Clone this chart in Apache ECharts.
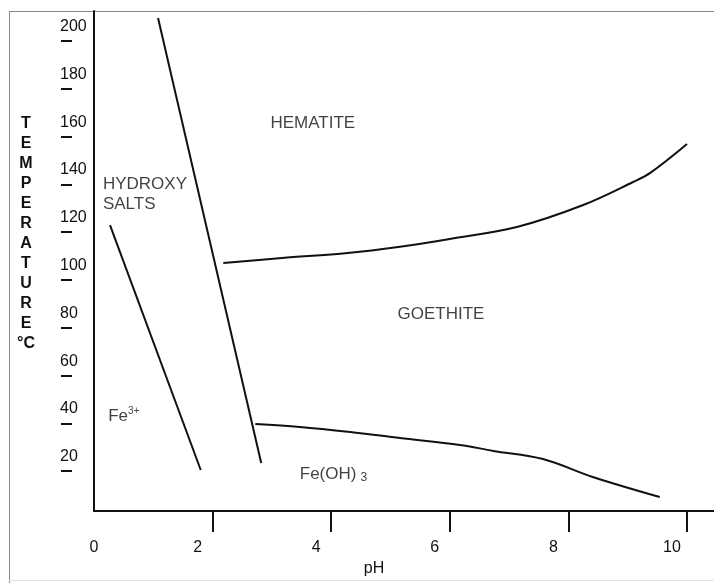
<!DOCTYPE html>
<html><head><meta charset="utf-8">
<script src="https://cdn.jsdelivr.net/npm/echarts@6/dist/echarts.min.js"></script>
<style>html,body{margin:0;padding:0;background:#fff}#c{width:714px;height:583px}</style>
</head><body><div id="c"></div>
<script>
// ---- data ----
const phTicks = [2, 4, 6, 8, 10];
const phLabels = [0, 2, 4, 6, 8, 10];
const tempTicks = [20, 40, 60, 80, 100, 120, 140, 160, 180, 200];
const yTitleLetters = ['T', 'E', 'M', 'P', 'E', 'R', 'A', 'T', 'U', 'R', 'E', '°C'];
// boundary lines [pH, T °C]
const hydroxyHematiteLine = [[1.08, 209.6], [2.82, 23.4]];
const fe3HydroxyLine = [[0.27, 123.0], [1.80, 20.5]];
const hematiteGoethiteLine = [[2.18, 107.1], [3.17, 109.2], [4.28, 111.3], [5.13, 113.8], [6.00, 117.2], [7.13, 122.2], [8.25, 131.4], [9.09, 141.0], [9.38, 144.8], [10.0, 156.9]];
const goethiteFeOH3Line = [[2.72, 39.7], [3.47, 38.5], [4.32, 36.4], [5.16, 33.9], [6.17, 31.0], [6.73, 28.5], [7.57, 25.1], [8.41, 17.6], [9.54, 9.2]];
// region labels [pH, T, text, align]
const regionLabels = [
  [3.69, 165.7, '{a|HEMATITE}', 'center'],
  [0.15, 136.0, '{a|HYDROXY}\n{a|SALTS}', 'left'],
  [5.85, 85.8, '{a|GOETHITE}', 'center'],
  [0.24, 43.1, '{a|Fe}{sup|3+}', 'left'],
  [3.47, 18.8, '{a|Fe(OH)}{sub|3}', 'left']
];

const FONT = 'Liberation Sans, Arial, sans-serif';
const INK = '#111';
const chart = echarts.init(document.getElementById('c'), null, {renderer: 'canvas'});

const lineSeries = (d) => ({
  type: 'line', data: d, symbol: 'none', smooth: d.length > 2 ? 0.35 : false,
  lineStyle: {color: INK, width: 2}, silent: true, z: 3
});

chart.setOption({
  animation: false,
  backgroundColor: '#fff',
  grid: {left: 94, right: 0, top: 11, bottom: 72, containLabel: false},
  xAxis: {
    type: 'value', min: 0, max: 10.455,
    axisLine: {show: true, lineStyle: {color: INK, width: 2}},
    axisTick: {show: true, length: 21, customValues: phTicks, lineStyle: {color: INK, width: 2}},
    axisLabel: {
      customValues: phLabels, margin: 29,
      formatter: v => v === 0 ? '{z|0}' : '{n|' + v + '}',
      rich: {
        z: {fontSize: 16, fontFamily: FONT, color: INK},
        n: {fontSize: 16, fontFamily: FONT, color: INK, padding: [0, 30, 0, 0]}
      }
    },
    splitLine: {show: false},
    name: 'pH', nameLocation: 'middle', nameGap: 50,
    nameTextStyle: {fontSize: 16, fontFamily: FONT, color: INK, padding: [0, 60, 0, 0]}
  },
  yAxis: [
    {
      type: 'value', min: 3.35, max: 212.55,
      axisLine: {show: true, lineStyle: {color: INK, width: 2}},
      axisTick: {show: false}, axisLabel: {show: false}, splitLine: {show: false}
    },
    {
      type: 'value', min: 3.35, max: 212.55, position: 'left', offset: 22,
      axisLine: {show: false},
      axisTick: {show: true, length: 11, customValues: tempTicks, lineStyle: {color: INK, width: 2}},
      axisLabel: {
        customValues: tempTicks, align: 'left', margin: 12,
        formatter: v => '{v|' + v + '}',
        rich: {v: {fontSize: 16, fontFamily: FONT, color: INK, padding: [0, 0, 29, 0]}}
      },
      splitLine: {show: false}
    }
  ],
  graphic: [
    {type: 'line', shape: {x1: 9, y1: 11.5, x2: 714, y2: 11.5}, style: {stroke: '#8a8a8a', lineWidth: 1}, silent: true},
    {type: 'line', shape: {x1: 9.5, y1: 11, x2: 9.5, y2: 583}, style: {stroke: '#8a8a8a', lineWidth: 1}, silent: true},
    {type: 'line', shape: {x1: 9, y1: 580.5, x2: 714, y2: 580.5}, style: {stroke: '#e2e2e2', lineWidth: 1}, silent: true},
    {type: 'text', left: 17, top: 114, style: {
      text: yTitleLetters.join('\n'),
      font: 'bold 16px ' + FONT, fill: INK, textAlign: 'center', lineHeight: 20
    }, silent: true}
  ],
  series: [
    lineSeries(hydroxyHematiteLine),
    lineSeries(fe3HydroxyLine),
    lineSeries(hematiteGoethiteLine),
    lineSeries(goethiteFeOH3Line),
    {
      type: 'scatter', symbolSize: 1, itemStyle: {color: 'rgba(0,0,0,0)'}, silent: true, z: 4,
      data: regionLabels.map(r => ({
        value: [r[0], r[1]],
        label: {
          show: true, position: 'inside', formatter: r[2], align: r[3], color: INK,
          lineHeight: 20,
          rich: {
            a: {fontSize: 17, fontFamily: FONT, color: INK, lineHeight: 20},
            sup: {fontSize: 10, fontFamily: FONT, color: INK, verticalAlign: 'top', lineHeight: 20},
            sub: {fontSize: 12, fontFamily: FONT, color: INK, verticalAlign: 'bottom', lineHeight: 20, padding: [0, 0, 0, 4]}
          }
        }
      }))
    }
  ]
});
</script></body></html>
